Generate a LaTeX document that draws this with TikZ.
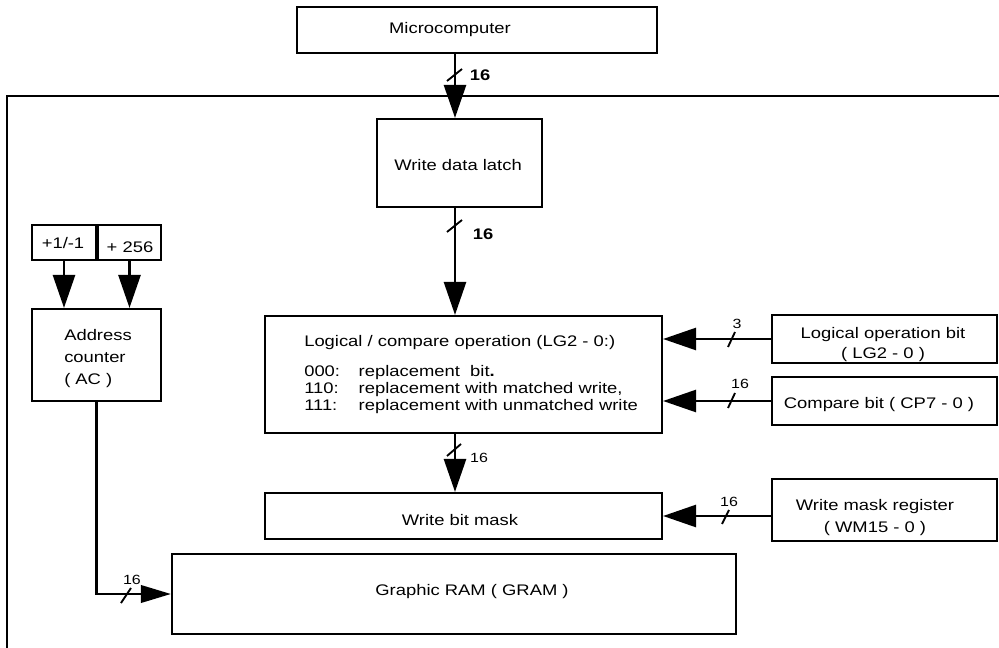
\documentclass[tikz,border=0pt]{standalone}
\usepackage{fontspec}
\setmainfont{Liberation Sans}[FakeStretch=1.2]
\usetikzlibrary{arrows.meta}
\tikzset{
  blk/.style={draw, line width=1.6pt, inner sep=0pt},
  bus/.style={line width=2pt, -{Triangle[length=24.75pt,width=16.5pt]}},
  gbus/.style={line width=2pt, -{Triangle[length=22.5pt,width=13pt]}},
  tick/.style={line width=1.4pt},
  txt/.style={inner sep=0.75pt, font=\fontsize{11.5}{15}\selectfont},
  num/.style={inner sep=0.75pt, font=\fontsize{10}{12}\selectfont},
  bnum/.style={inner sep=0.75pt, font=\fontsize{11.5}{14}\selectfont\bfseries},
}
\begin{document}
\begin{tikzpicture}[x=0.75pt,y=0.75pt,yscale=-1,xscale=1]
\useasboundingbox (0,0) rectangle (999,648);

%Frame
\draw [line width=1.4pt] (999,96) -- (7,96) -- (7,648) ;

%Shape: Rectangle
\node [blk, minimum width=270pt, minimum height=34.5pt] (micro) at (477,30) {};
\node [blk, minimum width=123.75pt, minimum height=66pt] (latch) at (459.5,163) {};
\node [blk, minimum width=48pt, minimum height=26.25pt] (inc) at (64,242.5) {};
\node [blk, minimum width=47.25pt, minimum height=26.25pt] (page) at (129.5,242.5) {};
\node [blk, minimum width=96.75pt, minimum height=69pt] (ac) at (96.5,355) {};
\node [blk, minimum width=297.75pt, minimum height=87.75pt] (logic) at (463.5,374.5) {};
\node [blk, minimum width=168.75pt, minimum height=36pt] (lop) at (884.5,339) {};
\node [blk, minimum width=168.75pt, minimum height=36pt] (cmp) at (884.5,401) {};
\node [blk, minimum width=297.75pt, minimum height=34.5pt] (mask) at (463.5,516) {};
\node [blk, minimum width=168.75pt, minimum height=46.5pt] (wmr) at (884.5,510) {};
\node [blk, minimum width=423pt, minimum height=60pt] (gram) at (454,594) {};

%Straight Lines
\coordinate (busx) at (455,0);
\draw [bus] (micro.south -| busx) -- (latch.north -| busx) ;
\draw [bus] (latch.south -| busx) -- (logic.north -| busx) ;
\draw [bus] (logic.south -| busx) -- (mask.north -| busx) ;
\draw [bus] (inc.south) -- (inc.south |- ac.north) ;
\draw [bus] (page.south) -- (page.south |- ac.north) ;
\draw [bus] (lop.west) -- (lop.west -| logic.east) ;
\draw [bus] (cmp.west) -- (cmp.west -| logic.east) ;
\draw [bus] (wmr.west |- mask.east) -- (mask.east) ;
\draw [gbus] (ac.south) |- (gram.west) ;

%Bus ticks
\draw [tick] (447,81) -- (462,69) ;
\draw [tick] (447,232) -- (462,220) ;
\draw [tick] (447,456) -- (461,444) ;
\draw [tick] (728,347) -- (735,332) ;
\draw [tick] (728,408) -- (735,393) ;
\draw [tick] (722,524) -- (729,510) ;
\draw [tick] (121,603) -- (131,588) ;

% Text Node
\node [txt] (microtxt) at (450,30) {Microcomputer};
% Text Node
\node [txt] (latchtxt) at (458,165) {Write data latch};
% Text Node
\node [txt] (inctxt) at (63,243) {+1/-1};
% Text Node
\node [txt] (pagetxt) at (130,247) {+ 256};
% Text Node
\node [txt, align=left, font=\fontsize{11.5}{16.5}\selectfont] (actxt) at (98,359) {Address\\counter\\( AC )};
% Text Node
\node [txt, anchor=west] (logtitle) at (303,343) {Logical / compare operation (LG2 - 0:)};
% Text Node
\node [txt, anchor=west, font=\fontsize{11.5}{12.75}\selectfont] (loglist) at (303,390) {\begin{tabular}{@{}l@{\hspace{14pt}}l@{}}
000: & replacement~~bit\textbf{.}\\
110: & replacement with matched write,\\
111: & replacement with unmatched write
\end{tabular}};
% Text Node
\node [txt, align=center] (loptxt) at (883,345) {Logical operation bit\\( LG2 - 0 )};
% Text Node
\node [txt] (cmptxt) at (879,405) {Compare bit ( CP7 - 0 )};
% Text Node
\node [txt, align=center, font=\fontsize{11.5}{16.5}\selectfont] (wmrtxt) at (875,518) {Write mask register\\( WM15 - 0 )};
% Text Node
\node [txt] (masktxt) at (460,520) {Write bit mask};
% Text Node
\node [txt] (gramtxt) at (472,592) {Graphic RAM ( GRAM )};

% Bus widths
\node [bnum] (w1) at (480,75) {16};
\node [bnum] (w2) at (483,234) {16};
\node [num] (w3) at (737,324) {3};
\node [num] (w4) at (740,384) {16};
\node [num] (w5) at (479,458) {16};
\node [num] (w6) at (729,502) {16};
\node [num] (w7) at (132,580) {16};

\end{tikzpicture}
\end{document}
